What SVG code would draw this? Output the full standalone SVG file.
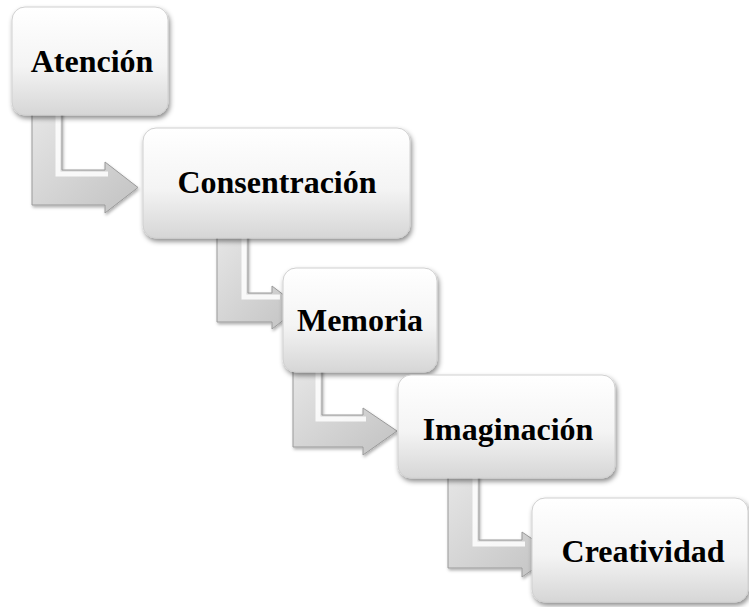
<svg xmlns="http://www.w3.org/2000/svg" width="749" height="607" viewBox="0 0 749 607">
<defs>
<linearGradient id="boxg" x1="0" y1="0" x2="0" y2="1">
<stop offset="0" stop-color="#ffffff"/>
<stop offset="0.55" stop-color="#f4f4f4"/>
<stop offset="1" stop-color="#d6d6d6"/>
</linearGradient>
<linearGradient id="arrg" x1="0" y1="0" x2="1" y2="1">
<stop offset="0" stop-color="#e6e6e6"/>
<stop offset="1" stop-color="#c2c2c2"/>
</linearGradient>
<filter id="sh" x="-10%" y="-10%" width="125%" height="130%">
<feDropShadow dx="1.5" dy="3" stdDeviation="2.5" flood-color="#000" flood-opacity="0.45"/>
</filter>
<filter id="ash" x="-10%" y="-10%" width="130%" height="130%">
<feDropShadow dx="1" dy="2" stdDeviation="1.5" flood-color="#000" flood-opacity="0.3"/>
</filter>
</defs>
<style>
.box{fill:url(#boxg);stroke:#d0d0d0;stroke-width:1;filter:url(#sh)}
.arr{fill:url(#arrg);stroke:#9a9a9a;stroke-width:1;filter:url(#ash)}
.hl{fill:none;stroke:#ffffff;stroke-width:5;stroke-linejoin:miter;opacity:0.85}
.lbl{font-family:"Liberation Serif","Times New Roman",serif;font-weight:bold;font-size:32px;fill:#000;text-anchor:middle}
</style>
<rect width="749" height="607" fill="#ffffff"/>
<g id="connectors">
<path class="arr" d="M32,110 L62,110 L62,170 L105,170 L105,162 L138,187.5 L105,213 L105,205 L32,205 Z"/>
<path class="hl" d="M58,112 L58,174 L108,174"/>
<path class="arr" d="M217,233 L248,233 L248,293 L272,293 L272,286 L300,307.5 L272,329 L272,322 L217,322 Z"/>
<path class="hl" d="M244,235 L244,297 L280,297"/>
<path class="arr" d="M293,367 L322,367 L322,415 L363,415 L363,408 L397,431 L363,455 L363,447 L293,447 Z"/>
<path class="hl" d="M318,369 L318,419 L366,419"/>
<path class="arr" d="M448,473 L479,473 L479,540 L522,540 L522,532 L555,554.5 L522,577 L522,568 L448,568 Z"/>
<path class="hl" d="M475,475 L475,544 L525,544"/>
</g>
<g id="n1"><rect class="box" x="12" y="7" width="156" height="108" rx="13"/><text class="lbl" x="92" y="72">Atención</text></g>
<g id="n2"><rect class="box" x="143" y="128" width="267" height="110" rx="13"/><text class="lbl" x="277" y="193">Consentración</text></g>
<g id="n3"><rect class="box" x="283" y="268" width="154" height="104" rx="13"/><text class="lbl" x="360" y="331">Memoria</text></g>
<g id="n4"><rect class="box" x="398" y="375" width="217" height="103" rx="13"/><text class="lbl" x="508" y="440">Imaginación</text></g>
<g id="n5"><rect class="box" x="532" y="498" width="216" height="104" rx="13"/><text class="lbl" x="643" y="562">Creatividad</text></g>
</svg>
